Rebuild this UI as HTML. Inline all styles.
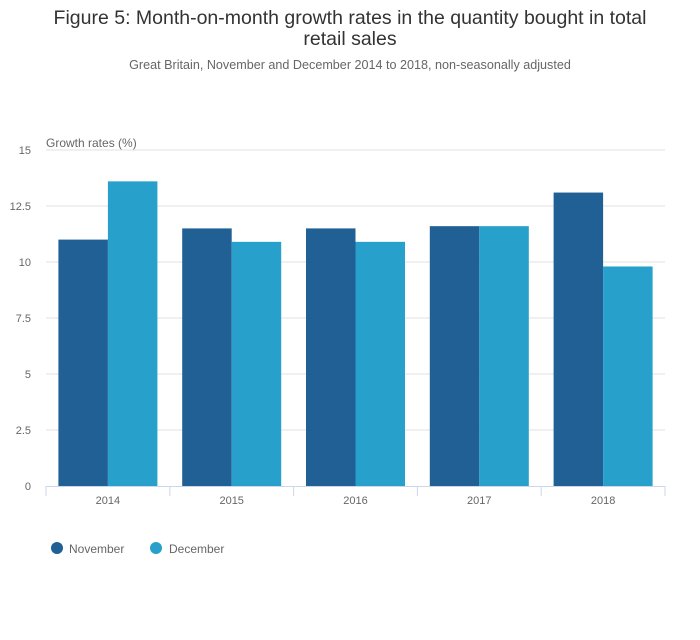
<!DOCTYPE html>
<html><head><meta charset="utf-8"><style>
body{margin:0;background:#fff;font-family:"Liberation Sans",sans-serif;}
svg text{font-family:"Liberation Sans",sans-serif;}
</style></head><body>
<svg id="chart" width="700" height="635">
<text x="350" y="24" text-anchor="middle" font-size="19.5" fill="#333">Figure 5: Month-on-month growth rates in the quantity bought in total</text>
<text x="350" y="45" text-anchor="middle" font-size="19.5" fill="#333">retail sales</text>
<text x="350" y="69" text-anchor="middle" font-size="12.6" fill="#666">Great Britain, November and December 2014 to 2018, non-seasonally adjusted</text>
<text x="46" y="147" font-size="12" fill="#666">Growth rates (%)</text>
<g id="grid"></g><g id="bars"></g><g id="xaxis"></g>
<g>
<circle cx="57" cy="548" r="6" fill="#206095"/>
<text x="69" y="553" font-size="12" fill="#666">November</text>
<circle cx="156" cy="548" r="6" fill="#27a0cc"/>
<text x="169" y="553" font-size="12" fill="#666">December</text>
</g>
</svg>
<script>
const categories=["2014","2015","2016","2017","2018"];
const november=[11.0,11.5,11.5,11.6,13.1];
const december=[13.6,10.9,10.9,11.6,9.8];
const yTicks=[0,2.5,5,7.5,10,12.5,15];
const yTickLabels=["0","2.5","5","7.5","10","12.5","15"];
const NS="http://www.w3.org/2000/svg";
const x0=46,x1=665,yBase=486,yTop=150,yMax=15;
const y=v=>yBase-(v/yMax)*(yBase-yTop);
const band=(x1-x0)/categories.length;
const xc=i=>x0+band*(i+0.5);
function mk(tag,attrs,parent){const e=document.createElementNS(NS,tag);for(const k in attrs)e.setAttribute(k,attrs[k]);document.getElementById(parent).appendChild(e);return e;}
yTicks.forEach((t,i)=>{
 if(t>0){const l=mk("line",{x1:x0,x2:x1,y1:y(t),y2:y(t),stroke:"#e2e2e2"},"grid");
 
 }
 const tx=mk("text",{x:31,y:y(t)+4,"text-anchor":"end","font-size":11,fill:"#666"},"grid");
 tx.textContent=yTickLabels[i];
 
 
});
const bw=49.5;
categories.forEach((c,i)=>{
 const b1=mk("rect",{x:xc(i)-bw,y:y(november[i]),width:bw,height:yBase-y(november[i]),fill:"#206095"},"bars");
 
 
 const b2=mk("rect",{x:xc(i),y:y(december[i]),width:bw,height:yBase-y(december[i]),fill:"#27a0cc"},"bars");
 
 
 const t=mk("text",{x:xc(i),y:504,"text-anchor":"middle","font-size":11,fill:"#666"},"xaxis");
 t.textContent=c;
 
 
});
const ax=mk("line",{x1:x0,x2:x1,y1:yBase+0.5,y2:yBase+0.5,stroke:"#ccd6eb"},"xaxis");


for(let i=0;i<=categories.length;i++){
 const tk=mk("line",{x1:x0+band*i,x2:x0+band*i,y1:yBase,y2:yBase+10,stroke:"#ccd6eb"},"xaxis");
 
 
}
</script>
</body></html>
